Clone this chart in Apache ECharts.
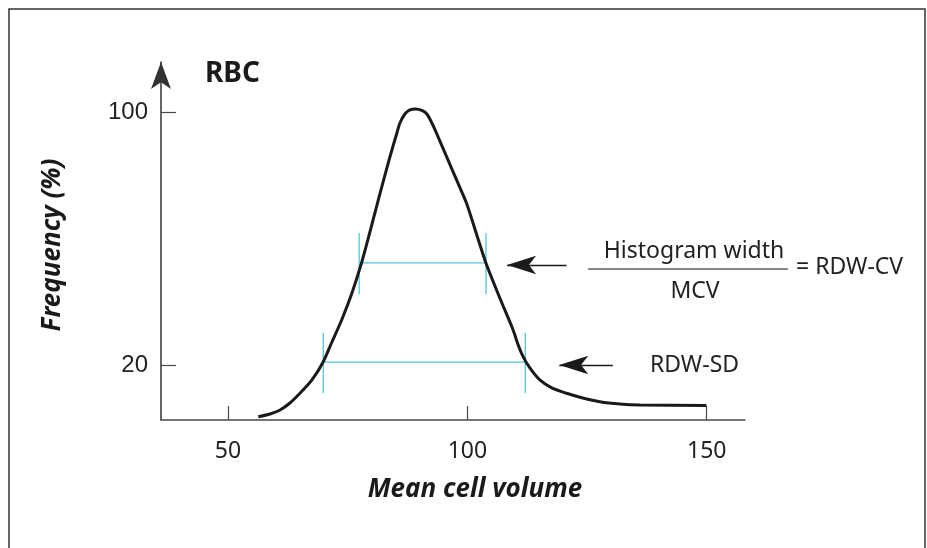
<!DOCTYPE html>
<html>
<head>
<meta charset="utf-8">
<script src="https://cdn.jsdelivr.net/npm/echarts@6/dist/echarts.min.js"></script>
<style>html,body{margin:0;padding:0;background:#fff}#c{width:927px;height:548px}</style>
</head>
<body>
<div id="c"></div>
<script>
// Histogram curve: mean cell volume vs frequency (%)
const curveX = [56.33, 58.77, 60.86, 62.94, 65.03, 67.54, 69.90, 71.71, 73.74, 75.89, 77.91, 79.65, 81.73, 83.82, 85.28, 85.91, 86.95, 88.00, 89.19, 90.50, 91.54, 92.59, 93.63, 95.66, 97.75, 99.83, 101.77, 103.86, 106.78, 109.56, 110.54, 111.65, 113.05, 115.14, 117.64, 120.71, 124.11, 127.66, 131.84, 136.01, 149.94];
const curveY = [3.65, 4.51, 5.77, 7.98, 11.05, 15.26, 21.04, 27.27, 34.23, 42.77, 52.35, 62.06, 74.07, 85.77, 93.36, 96.52, 99.37, 100.63, 100.95, 100.47, 99.37, 96.52, 93.04, 85.87, 78.50, 71.13, 62.06, 52.35, 41.19, 31.07, 26.64, 22.62, 19.05, 15.26, 12.73, 11.05, 9.57, 8.40, 7.67, 7.35, 7.19];
// Width markers: [xLeft, xRight, level, tickLow, tickHigh]
const rdwSD = [69.9, 112.1, 20.9, 11.1, 30.2];
const rdwCV = [77.4, 103.9, 52.3, 42.4, 61.7];
// Annotation arrows: [xFrom, xTo, y]
const arrowCV = [120.7, 108.3, 51.6];
const arrowSD = [130.4, 119.2, 20.0];
const xTicks = [50, 100, 150];
const yTicks = [20, 100];

const cyan = '#4fc6da';
function seg(a, b) {
  return {type: 'line', data: [a, b], showSymbol: false, silent: true,
    lineStyle: {color: cyan, width: 1.3}, z: 1, animation: false};
}
const series = [
  {type: 'line', data: curveX.map((x, i) => [x, curveY[i]]), smooth: 0.25, showSymbol: false,
   lineStyle: {color: '#1a1a1a', width: 3}, z: 3, animation: false},
  seg([rdwSD[0], rdwSD[2]], [rdwSD[1], rdwSD[2]]),
  seg([rdwSD[0], rdwSD[3]], [rdwSD[0], rdwSD[4]]),
  seg([rdwSD[1], rdwSD[3]], [rdwSD[1], rdwSD[4]]),
  seg([rdwCV[0] + 0.4, rdwCV[2]], [rdwCV[1], rdwCV[2]]),
  seg([rdwCV[0], rdwCV[3]], [rdwCV[0], rdwCV[4]]),
  seg([rdwCV[1], rdwCV[3]], [rdwCV[1], rdwCV[4]]),
  {type: 'line', data: [], animation: false,
   markLine: {silent: true, symbol: ['none', 'arrow'], symbolSize: [14, 29], label: {show: false},
     lineStyle: {color: '#1a1a1a', width: 1.3, type: 'solid'}, animation: false,
     data: [
       [{coord: [arrowCV[0], arrowCV[2]]}, {coord: [arrowCV[1], arrowCV[2]]}],
       [{coord: [arrowSD[0], arrowSD[2]]}, {coord: [arrowSD[1], arrowSD[2]]}]
     ]}}
];

const chart = echarts.init(document.getElementById('c'), null, {renderer: 'canvas'});
chart.setOption({
  backgroundColor: '#fff',
  animation: false,
  grid: {left: 161, right: 182, top: 62, bottom: 128, containLabel: false, outerBoundsMode: 'none'},
  xAxis: {type: 'value', min: 36, max: 158,
    splitLine: {show: false},
    axisLine: {show: true, onZero: false, lineStyle: {color: '#4a4a4a', width: 1.5}},
    axisTick: {show: true, inside: true, length: 14, customValues: xTicks, lineStyle: {color: '#4a4a4a', width: 1.2}},
    axisLabel: {customValues: xTicks, margin: 20, fontSize: 23, color: '#222', fontFamily: 'Noto Sans'}},
  yAxis: {type: 'value', min: 2.6, max: 115.8,
    splitLine: {show: false},
    axisLine: {show: true, onZero: false, symbol: ['none', 'arrow'], symbolSize: [15, 27], lineStyle: {color: '#333', width: 1.5}},
    axisTick: {show: true, inside: true, length: 15, customValues: yTicks, lineStyle: {color: '#4a4a4a', width: 1.2}},
    axisLabel: {customValues: yTicks, margin: 13, fontSize: 24, color: '#222', fontFamily: 'Liberation Sans'}},
  series: series,
  graphic: [
    {type: 'rect', shape: {x: 9, y: 9, width: 916, height: 570}, style: {fill: 'none', stroke: '#333', lineWidth: 1.5}, silent: true},
    {type: 'text', x: 205, y: 74, style: {text: 'RBC', font: 'bold 28px "Noto Sans"', fill: '#1a1a1a', verticalAlign: 'middle', align: 'left'}},
    {type: 'text', x: 53, y: 245, rotation: Math.PI / 2, style: {text: 'Frequency (%)', font: 'italic bold 26px "Noto Sans"', fill: '#1a1a1a', align: 'center', verticalAlign: 'middle'}},
    {type: 'text', x: 475, y: 490, style: {text: 'Mean cell volume', font: 'italic bold 26px "Noto Sans"', fill: '#1a1a1a', align: 'center', verticalAlign: 'middle'}},
    {type: 'text', x: 694, y: 251, style: {text: 'Histogram width', font: '23px "Noto Sans"', fill: '#222', align: 'center', verticalAlign: 'middle'}},
    {type: 'line', shape: {x1: 588, y1: 269, x2: 788, y2: 269}, style: {stroke: '#888', lineWidth: 2}},
    {type: 'text', x: 695, y: 291, style: {text: 'MCV', font: '23px "Noto Sans"', fill: '#222', align: 'center', verticalAlign: 'middle'}},
    {type: 'text', x: 796, y: 267, style: {text: '= RDW-CV', font: '23px "Noto Sans"', fill: '#222', align: 'left', verticalAlign: 'middle'}},
    {type: 'text', x: 650, y: 365, style: {text: 'RDW-SD', font: '23px "Noto Sans"', fill: '#222', align: 'left', verticalAlign: 'middle'}}
  ]
});
</script>
</body>
</html>
